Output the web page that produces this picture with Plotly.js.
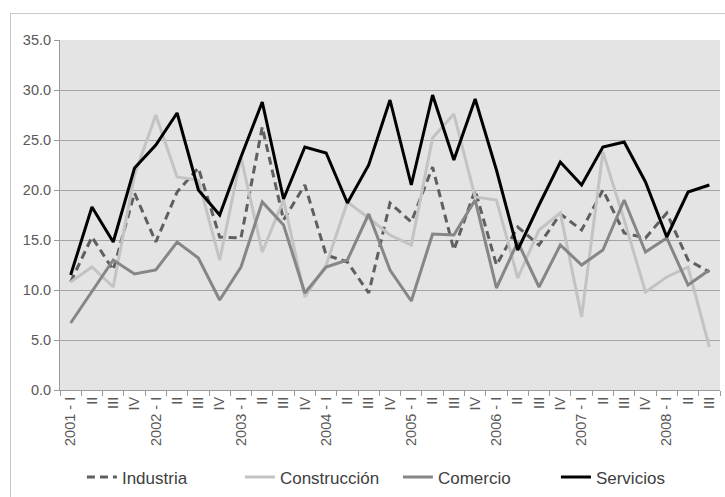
<!DOCTYPE html>
<html>
<head>
<meta charset="utf-8">
<script src="https://cdn.plot.ly/plotly-3.0.1.min.js"></script>
<style>
  html, body { margin: 0; padding: 0; background: #ffffff; }
  #frame { position: absolute; left: 10px; top: 13px; width: 730px; height: 490px; border: 1px solid #c8c8c8; box-sizing: border-box; }
  #chart { position: absolute; left: 0; top: 0; width: 725px; height: 497px; }
</style>
</head>
<body>
<div id="frame"></div>
<div id="chart"></div>
<script>
// Quarterly periods 2001-I .. 2008-III
const quarters = [
  "2001 - I","2001 - II","2001 - III","2001 - IV",
  "2002 - I","2002 - II","2002 - III","2002 - IV",
  "2003 - I","2003 - II","2003 - III","2003 - IV",
  "2004 - I","2004 - II","2004 - III","2004 - IV",
  "2005 - I","2005 - II","2005 - III","2005 - IV",
  "2006 - I","2006 - II","2006 - III","2006 - IV",
  "2007 - I","2007 - II","2007 - III","2007 - IV",
  "2008 - I","2008 - II","2008 - III"
];
const tickLabels = [
  "2001 - I","II","III","IV",
  "2002 - I","II","III","IV",
  "2003 - I","II","III","IV",
  "2004 - I","II","III","IV",
  "2005 - I","II","III","IV",
  "2006 - I","II","III","IV",
  "2007 - I","II","III","IV",
  "2008 - I","II","III"
];

const industria = [10.8,15.3,12.0,19.7,14.8,19.8,22.2,15.3,15.2,26.3,17.0,20.5,13.5,12.8,9.7,18.7,16.8,22.3,14.0,20.0,12.5,16.3,14.5,17.6,16.0,20.0,15.7,15.2,17.7,13.0,11.8];
const construccion = [10.8,12.3,10.3,21.5,27.5,21.3,21.0,13.0,23.3,13.8,19.0,9.3,12.5,18.8,17.2,15.5,14.5,25.2,27.6,19.3,19.0,11.2,16.0,17.7,7.3,23.8,17.0,9.8,11.3,12.3,4.3];
const comercio = [6.7,9.8,13.0,11.6,12.0,14.8,13.2,9.0,12.3,18.8,16.5,9.7,12.3,13.0,17.6,12.0,8.9,15.6,15.5,19.0,10.2,14.8,10.3,14.5,12.5,14.0,19.0,13.8,15.2,10.5,12.0];
const servicios = [11.5,18.3,14.8,22.2,24.5,27.7,20.0,17.5,23.3,28.8,19.1,24.3,23.7,18.7,22.5,29.0,20.5,29.5,23.0,29.1,22.0,14.0,18.5,22.8,20.5,24.3,24.8,20.8,15.3,19.8,20.5];

const traces = [
  { name: "Industria", y: industria, line: { color: "#5f5f5f", width: 3, dash: "8px,5px" } },
  { name: "Construcción", y: construccion, line: { color: "#c3c3c3", width: 3 } },
  { name: "Comercio", y: comercio, line: { color: "#868686", width: 3 } },
  { name: "Servicios", y: servicios, line: { color: "#000000", width: 3 } }
].map(t => Object.assign({ x: quarters, type: "scatter", mode: "lines" }, t));

const layout = {
  width: 725,
  height: 497,
  margin: { l: 60, r: 5, t: 40, b: 107, autoexpand: false },
  paper_bgcolor: "rgba(0,0,0,0)",
  plot_bgcolor: "#e4e4e4",
  font: { family: "Liberation Sans, Arial, sans-serif", size: 14, color: "#595959" },
  showlegend: true,
  legend: {
    orientation: "h",
    x: 0.512, xanchor: "center",
    y: -0.25, yanchor: "middle",
    font: { size: 17, color: "#404040" },
    bgcolor: "rgba(0,0,0,0)",
    entrywidth: 113,
    entrywidthmode: "pixels",
    traceorder: "normal"
  },
  xaxis: {
    type: "category",
    range: [-0.5, quarters.length - 0.5],
    tickmode: "array",
    tickvals: quarters,
    ticktext: tickLabels,
    tickson: "boundaries",
    tickangle: -90,
    ticks: "outside",
    ticklen: 5,
    tickcolor: "#9a9a9a",
    showline: true,
    linecolor: "#9a9a9a",
    linewidth: 1,
    showgrid: false,
    zeroline: false,
    tickfont: { size: 14.5, color: "#595959" }
  },
  yaxis: {
    range: [0, 35],
    dtick: 5,
    tickformat: ".1f",
    ticks: "outside",
    ticklen: 5,
    tickcolor: "#9a9a9a",
    showline: true,
    linecolor: "#9a9a9a",
    linewidth: 1,
    gridcolor: "#a3a3a3",
    gridwidth: 1,
    zeroline: false,
    tickfont: { size: 14.5, color: "#595959" }
  }
};

Plotly.newPlot("chart", traces, layout, { displayModeBar: false, staticPlot: true });
</script>
</body>
</html>
